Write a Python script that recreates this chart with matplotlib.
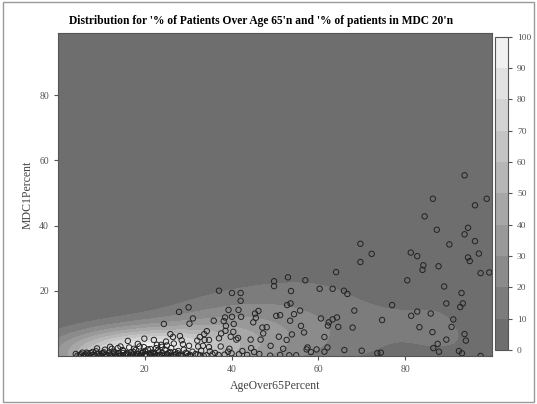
import numpy as np
import matplotlib
matplotlib.use('Agg')
import matplotlib.pyplot as plt
from matplotlib.colors import ListedColormap, BoundaryNorm
from matplotlib.patches import Rectangle

plt.rcParams['font.family'] = ['Liberation Serif', 'DejaVu Serif']

# % of patients over 65 (x) and % of patients in MDC 20 (y), one pair per hospital
age_over65 = [
    # upper right
    93.7, 86.4, 98.8, 96.1, 84.5, 87.3, 94.5, 93.7, 96.1, 90.2, 97.0, 81.3, 82.8, 94.5,
    94.9, 84.2, 84.0, 87.7, 97.4, 99.4, 80.5, 89.0, 93.0, 89.5, 93.3, 92.7, 77.0, 82.8,
    81.4, 85.9, 91.1, 90.7, 83.3, 86.3, 93.7, 94.0, 89.5, 87.5, 86.5, 87.8, 92.4, 93.1,
    97.4,
    # middle
    69.7, 72.3, 69.7, 64.1, 53.0, 57.0, 60.3, 63.3, 65.9, 66.7, 53.7, 53.6, 52.8, 55.8,
    54.4, 68.3, 74.7, 60.6, 64.3, 63.3, 62.4, 62.2, 64.6, 67.9, 53.5, 56.0, 53.9, 56.7,
    61.4, 57.5, 58.3, 62.1, 61.4, 66.0, 70.0, 73.6, 74.4, 53.3, 54.9, 57.3, 59.6,
    # 26-53
    49.8, 49.8, 37.1, 40.1, 42.1, 42.1, 27.9, 30.1, 39.3, 41.6, 31.1, 30.3, 35.9, 38.5,
    40.1, 42.2, 46.2, 45.4, 45.6, 45.0, 50.3, 51.2, 38.2, 38.7, 40.5, 38.6, 40.4, 47.1,
    48.1, 47.3, 50.9, 44.4, 46.7, 37.6, 37.1, 39.8, 41.1, 41.5, 34.3, 33.7, 32.7, 32.1,
    33.8, 34.8, 28.1, 28.5, 26.5, 26.7, 28.8, 30.2, 32.3, 33.4, 34.8, 26.1, 27.7, 29.5,
    30.4, 32.7, 34.2, 35.6, 37.0, 37.5, 39.5, 40.0, 41.7, 44.5, 45.2, 46.4, 48.9, 51.2,
    49.0, 51.9, 52.7,
    # lower left
    24.4, 16.1, 19.9, 22.1, 25.9, 18.4, 18.8, 22.8, 24.9, 25.1, 14.4, 12.4, 14.9, 21.3,
    23.8,
    4.1, 5.0, 5.6, 6.3, 7.0, 7.5, 8.2, 8.8, 9.4, 10.0, 10.6, 11.1, 11.7, 12.3, 12.9,
    13.4, 14.0, 14.6, 15.1, 15.7, 16.2, 16.8, 17.3, 17.9, 18.5, 19.0, 19.6, 20.2, 20.7,
    21.3, 21.9, 22.4, 23.0, 23.6, 24.1, 24.7, 25.3, 25.9, 26.8, 27.6, 28.3, 29.0, 31.0,
    31.7, 33.0, 35.0, 36.2, 38.4, 39.2, 42.5, 43.6,
    9.0, 10.8, 12.0, 13.8, 16.4, 17.5, 19.8, 22.6, 24.0, 20.0,
    # zero-MDC band along the bottom
    4.5, 5.3, 6.0, 6.8, 7.7, 8.5, 9.1, 9.8, 10.3, 11.4, 12.0, 12.6, 13.2, 13.9,
    14.4, 15.4, 16.0, 16.6, 17.1, 17.7, 18.2, 18.9, 19.4, 20.0, 20.5, 21.1, 21.6, 22.2,
    22.9, 23.4, 24.0, 24.5, 25.1, 25.7, 26.4, 27.2, 28.0, 28.8, 29.7, 30.6, 32.2, 33.6,
    6.6, 8.0, 10.2, 12.8, 15.0, 17.4, 19.2, 21.5, 23.2, 25.5, 27.0, 14.0, 18.0, 22.0,
    26.0, 30.0,
]
mdc_pct = [
    55.4, 48.2, 48.2, 46.2, 42.8, 38.7, 39.3, 37.3, 35.2, 34.2, 31.4, 31.7, 30.6, 30.2,
    29.1, 27.8, 26.4, 27.5, 25.4, 25.6, 23.2, 21.3, 19.3, 16.1, 16.1, 15.0, 15.6, 13.6,
    12.3, 13.0, 11.2, 8.9, 8.8, 7.3, 6.7, 4.7, 5.0, 3.7, 2.4, 1.3, 1.5, 0.8,
    0.0,
    34.4, 31.3, 28.8, 25.7, 24.1, 23.2, 20.6, 20.6, 20.0, 19.0, 19.9, 16.1, 15.6, 13.9,
    12.8, 13.9, 11.0, 11.5, 11.8, 11.2, 10.3, 9.3, 8.9, 8.7, 10.8, 9.2, 6.6, 7.2,
    5.8, 2.6, 1.2, 2.6, 1.3, 1.8, 1.6, 0.8, 1.0, 0.2, 0.2, 2.0, 2.0,
    22.9, 21.4, 20.0, 19.3, 19.3, 16.9, 13.5, 14.9, 14.1, 14.1, 11.5, 9.9, 10.8, 11.8,
    12.0, 12.0, 13.8, 13.0, 11.7, 10.3, 12.3, 12.5, 10.7, 9.2, 9.8, 7.7, 7.4, 8.7,
    8.8, 6.9, 5.9, 5.0, 5.0, 6.9, 5.4, 5.9, 5.0, 5.5, 7.6, 6.7, 5.8, 4.7,
    4.9, 4.9, 6.1, 4.8, 5.8, 3.8, 3.6, 3.1, 2.9, 3.1, 2.7, 2.4, 1.5, 1.0,
    0.3, 0.2, 0.2, 0.5, 0.3, 2.9, 2.2, 0.8, 0.5, 2.4, 1.2, 0.6, 0.1, 0.3,
    3.1, 2.2, 4.9,
    9.8, 4.6, 5.3, 4.9, 6.7, 3.7, 2.9, 3.4, 4.4, 3.2, 2.9, 2.2, 1.8, 2.1,
    3.4,
    0.6, 0.2, 1.0, 0.4, 0.1, 0.9, 0.3, 1.4, 0.6, 0.1, 1.1, 0.4, 0.8, 0.2, 1.3,
    0.5, 0.9, 0.2, 1.5, 0.6, 0.2, 1.1, 0.4, 1.8, 0.7, 0.2, 1.2, 0.5, 2.0,
    0.3, 1.0, 0.6, 1.6, 0.2, 0.9, 1.9, 0.4, 1.2, 0.3, 0.8, 0.2, 1.9, 1.3,
    0.6, 1.6, 1.4, 0.9, 0.4, 1.3, 1.5, 0.3,
    2.3, 1.9, 2.8, 2.4, 2.6, 2.2, 2.7, 2.4, 2.8, 1.5,
    0.1, 0.5, 0.0, 0.7, 0.2, 0.0, 0.6, 0.3, 0.9, 0.0, 0.4, 0.7, 0.1, 0.5,
    0.0, 0.3, 0.8, 0.0, 0.4, 0.1, 0.6, 0.0, 0.9, 0.2, 0.0, 0.5, 0.1, 0.7,
    0.0, 0.4, 0.2, 0.0, 0.6, 0.1, 0.0, 0.5, 0.3, 0.0, 0.7, 0.1, 0.4, 0.0,
    1.0, 1.2, 0.8, 1.1, 0.9, 1.2, 0.8, 1.0, 1.1, 0.9, 1.2, 0.0, 0.0, 0.0,
    0.0, 0.0,
]

density_levels = [0, 10, 20, 30, 40, 50, 60, 70, 80, 90, 100]
x_ticks = [20, 40, 60, 80]
y_ticks = [20, 40, 60, 80]


def kernel_density(x, y, gx, gy, hx, hy):
    """Bivariate gaussian kernel density, scaled so the peak is 100."""
    dx = (gx[..., None] - x) / hx
    dy = (gy[..., None] - y) / hy
    dens = np.exp(-0.5 * (dx ** 2 + dy ** 2)).sum(axis=-1)
    return 100 * dens / dens.max()


x = np.asarray(age_over65)
y = np.asarray(mdc_pct)

gx, gy = np.meshgrid(np.linspace(0, 100, 201), np.linspace(0, 99, 199))
dens = kernel_density(x, y, gx, gy, hx=9.5, hy=4.8)

grays = np.linspace(0.43, 0.94, len(density_levels) - 1)
cmap = ListedColormap([(g, g, g) for g in grays])
norm = BoundaryNorm(density_levels, cmap.N)

fig = plt.figure(figsize=(5.37, 4.04), dpi=100)
fig.patches.append(Rectangle((0.006, 0.006), 0.988, 0.988, transform=fig.transFigure,
                             fill=False, edgecolor='#9a9a9a', linewidth=1.0))

ax = fig.add_axes([0.108, 0.119, 0.808, 0.799])
cf = ax.contourf(gx, gy, dens, levels=density_levels, cmap=cmap, norm=norm)
ax.scatter(x, y, s=15, facecolors='none', edgecolors='#222222', linewidths=0.7, zorder=3)

ax.set_xlim(0, 100)
ax.set_ylim(0, 99)
ax.set_xticks(x_ticks)
ax.set_yticks(y_ticks)
ax.tick_params(labelsize=7, colors='#555555', length=3, width=0.8)
for s in ax.spines.values():
    s.set_color('#555555')
ax.set_xlabel('AgeOver65Percent', fontsize=8.5, color='#444444')
ax.set_ylabel('MDC1Percent', fontsize=8.5, color='#444444')

fig.suptitle("Distribution for '% of Patients Over Age 65'n and '% of patients in MDC 20'n",
             x=0.487, y=0.962, fontsize=8.3, fontweight='bold')

cax = fig.add_axes([0.922, 0.134, 0.024, 0.775])
cb = fig.colorbar(cf, cax=cax, ticks=density_levels)
cb.ax.tick_params(labelsize=6.8, colors='#555555', length=3, width=0.8)
cb.outline.set_edgecolor('#555555')

fig.savefig('out.png', dpi=100)
